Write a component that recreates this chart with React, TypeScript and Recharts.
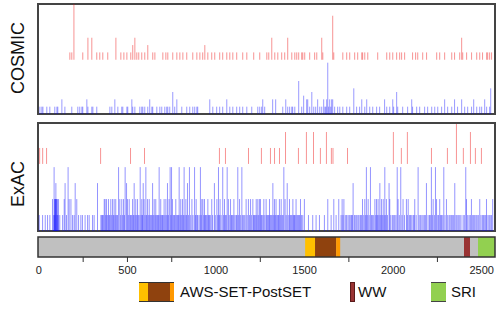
import React from 'react';
import { BarChart, Bar, XAxis, YAxis, ReferenceArea } from 'recharts';

// protein position axis
const xDomain: [number, number] = [-5, 2575];
const axisTicks = [0, 250, 500, 750, 1000, 1250, 1500, 1750, 2000, 2250, 2500];
const tickMarks = [250, 500, 750, 1250, 1750, 2250];
const tickLabels = [0, 500, 1000, 1500, 2000, 2500];

// [residue, height] for each track
const cosmicRed: [number, number][] = [
  [175, 1], [186, 1], [198, 7.6], [248, 1], [277, 3], [299, 3], [327, 1], [344, 1], [361, 1], [389, 1],
  [435, 3], [463, 1], [480, 1], [497, 1], [519, 1], [530, 2], [542, 3], [553, 1], [564, 1], [581, 1],
  [598, 1], [615, 2], [643, 1], [655, 1], [700, 1], [717, 1], [728, 1], [756, 1], [779, 1], [796, 1],
  [813, 1], [835, 1], [869, 1], [892, 1], [909, 1], [925, 1], [937, 2], [954, 1], [976, 1], [993, 1],
  [1021, 1], [1038, 1], [1061, 1], [1078, 1], [1095, 1], [1117, 1], [1151, 1], [1174, 1], [1213, 1],
  [1247, 1], [1287, 1], [1298, 1], [1315, 3], [1332, 1], [1349, 1], [1371, 1], [1388, 1], [1405, 3],
  [1428, 1], [1445, 1], [1456, 1], [1467, 1], [1484, 1], [1490, 1], [1501, 1], [1529, 1], [1557, 1],
  [1569, 1], [1597, 3], [1603, 1], [1659, 6], [1665, 1], [1716, 1], [1738, 1], [1755, 1], [1783, 1],
  [1800, 1], [1823, 1], [1828, 1], [1840, 1], [1857, 1], [1913, 1], [1964, 1], [1981, 1], [1998, 1],
  [2020, 1], [2037, 1], [2048, 1], [2065, 1], [2110, 1], [2127, 1], [2139, 1], [2167, 1], [2189, 1],
  [2246, 1], [2263, 1], [2291, 1], [2331, 1], [2347, 1], [2376, 1], [2387, 3], [2393, 1], [2415, 1],
  [2443, 1], [2472, 1], [2489, 1], [2505, 1], [2528, 1], [2534, 1], [2545, 1], [2556, 1],
];

const cosmicBlue: [number, number][] = [
  [6, 1], [17, 1], [23, 1], [45, 1], [62, 1], [90, 1], [102, 1], [107, 1], [130, 2], [147, 1],
  [186, 1], [220, 1], [231, 1], [243, 1], [248, 1], [271, 2], [277, 1], [299, 1], [305, 1], [327, 1],
  [401, 1], [412, 1], [429, 2], [446, 1], [468, 1], [474, 1], [497, 1], [502, 1], [525, 2], [530, 1],
  [542, 1], [570, 1], [581, 1], [587, 1], [598, 1], [615, 1], [626, 2], [638, 1], [643, 1], [666, 1],
  [683, 1], [694, 1], [711, 1], [722, 1], [728, 1], [739, 1], [756, 3], [767, 1], [779, 2], [807, 1],
  [835, 1], [852, 1], [869, 1], [880, 1], [892, 1], [897, 1], [965, 2], [982, 1], [1004, 1], [1021, 1],
  [1038, 1], [1061, 2], [1078, 1], [1095, 1], [1117, 1], [1134, 1], [1151, 1], [1174, 1], [1202, 1],
  [1236, 1], [1247, 1], [1258, 1], [1264, 2], [1275, 1], [1320, 2], [1337, 2], [1377, 1], [1394, 2],
  [1405, 1], [1416, 1], [1428, 1], [1433, 1], [1445, 1], [1467, 4.5], [1484, 1], [1495, 2.5], [1512, 2],
  [1518, 2], [1529, 1], [1541, 3], [1552, 1], [1563, 1], [1574, 2], [1586, 1], [1597, 1], [1608, 2],
  [1615, 1], [1620, 1], [1625, 2], [1631, 7], [1636, 1], [1642, 2], [1648, 1], [1653, 2], [1659, 2],
  [1670, 1], [1687, 1], [1699, 1], [1716, 1], [1738, 1], [1755, 1], [1778, 3.5], [1794, 1], [1811, 1],
  [1823, 2], [1840, 1], [1851, 2], [1868, 1], [1885, 1], [1907, 1], [1924, 1], [1952, 2], [1964, 1],
  [1981, 1], [1998, 2], [2003, 1], [2020, 3], [2026, 1], [2054, 1], [2082, 1], [2105, 2], [2110, 1],
  [2133, 1], [2150, 1], [2178, 1], [2195, 1], [2218, 1], [2235, 1], [2252, 1], [2274, 1], [2291, 2],
  [2308, 1], [2331, 1], [2347, 2], [2364, 1], [2387, 2], [2404, 1], [2421, 1], [2443, 1], [2455, 2],
  [2472, 1], [2489, 1], [2500, 1], [2517, 2], [2528, 1], [2545, 1], [2551, 3.5],
];

const exacRed: [number, number][] = [
  [6, 1], [23, 1], [45, 1], [350, 1], [519, 1], [598, 1], [1021, 1], [1055, 1], [1185, 1], [1258, 1],
  [1309, 1], [1332, 1], [1360, 1], [1394, 2], [1467, 1], [1512, 2], [1552, 2], [1591, 1], [1625, 2],
  [1653, 1], [1662, 1], [1744, 1], [2003, 2], [2048, 1], [2082, 2], [2218, 1], [2308, 1], [2359, 2.5],
  [2398, 1], [2438, 2], [2466, 1], [2500, 1],
];

const exacBlue: [number, number][] = [
  [2, 1], [21, 1], [36, 1], [49, 1], [62, 1], [77, 2], [84, 1], [86, 4], [88, 2], [90, 1], [92, 2],
  [94, 2], [96, 3], [98, 2], [100, 2], [103, 1], [105, 2], [108, 1], [111, 2], [118, 1], [134, 1],
  [143, 2], [148, 3], [156, 1], [165, 4], [171, 2], [181, 2], [190, 1], [199, 1], [205, 3], [214, 2],
  [224, 1], [237, 1], [246, 1], [261, 1], [275, 1], [284, 1], [303, 1], [312, 1], [331, 3], [350, 1],
  [359, 1], [369, 2], [374, 2], [382, 2], [393, 2], [401, 1], [406, 2], [416, 2], [425, 2], [434, 2],
  [444, 1], [450, 4], [457, 2], [468, 2], [478, 2], [487, 4], [495, 3], [500, 2], [510, 2], [519, 1],
  [529, 2], [538, 3], [547, 2], [557, 2], [566, 1], [572, 4], [581, 2], [589, 3], [594, 2], [604, 4],
  [613, 2], [623, 2], [632, 1], [642, 3], [651, 2], [660, 2], [670, 1], [679, 4], [688, 2], [698, 1],
  [707, 2], [717, 2], [726, 3], [735, 2], [741, 4], [749, 4], [754, 2], [764, 1], [773, 2], [783, 1],
  [792, 4], [801, 2], [811, 2], [820, 4], [830, 2], [839, 3], [850, 4], [864, 2], [879, 4], [888, 2],
  [897, 1], [912, 4], [920, 2], [926, 2], [935, 2], [944, 1], [954, 2], [963, 1], [976, 2], [991, 3],
  [1005, 2], [1014, 4], [1023, 2], [1038, 4], [1048, 2], [1063, 4], [1070, 2], [1082, 2], [1091, 1],
  [1101, 2], [1114, 1], [1123, 4], [1133, 2], [1146, 4], [1157, 1], [1170, 2], [1183, 2], [1195, 2],
  [1208, 2], [1217, 1], [1227, 2], [1236, 2], [1245, 2], [1251, 2], [1259, 1], [1270, 2], [1283, 2],
  [1292, 1], [1302, 2], [1311, 1], [1321, 3], [1330, 2], [1339, 2], [1349, 1], [1358, 2], [1368, 2],
  [1383, 4], [1390, 2], [1402, 3], [1415, 2], [1424, 1], [1434, 2], [1443, 1], [1452, 2], [1462, 1],
  [1477, 2], [1490, 1], [1499, 2], [1522, 1], [1546, 1], [1565, 1], [1584, 1], [1612, 1], [1631, 2],
  [1650, 1], [1665, 2], [1678, 1], [1693, 2], [1706, 1], [1712, 2], [1722, 2], [1737, 1], [1752, 1],
  [1765, 1], [1774, 3], [1789, 1], [1802, 1], [1816, 1], [1827, 2], [1840, 2], [1849, 4], [1859, 2],
  [1872, 4], [1883, 1], [1897, 2], [1906, 2], [1915, 2], [1925, 3], [1934, 2], [1944, 2], [1953, 4],
  [1962, 2], [1977, 3], [1981, 2], [1996, 1], [2009, 1], [2023, 4], [2028, 2], [2043, 4], [2056, 2],
  [2075, 2], [2085, 2], [2098, 1], [2113, 1], [2122, 2], [2141, 4], [2154, 1], [2169, 1], [2188, 3],
  [2197, 1], [2216, 4], [2226, 2], [2239, 4], [2245, 2], [2263, 2], [2273, 1], [2286, 4], [2301, 2],
  [2316, 1], [2329, 1], [2348, 3], [2361, 1], [2376, 1], [2395, 1], [2410, 4], [2414, 2], [2429, 1],
  [2442, 2], [2461, 1], [2474, 1], [2489, 2], [2504, 1], [2517, 1], [2527, 2], [2542, 1], [2555, 1],
  [2562, 2],
];

// single-count ExAC variants filling the dense bottom band
const exacBlueSingles: number[] = [
  355, 364, 378, 387, 397, 411, 421, 430, 439, 462, 473, 483, 505, 515, 524, 534, 543, 552, 561, 577,
  585, 599, 608, 618, 627, 637, 646, 656, 665, 675, 684, 693, 702, 712, 722, 731, 745, 759, 768, 778,
  788, 797, 806, 816, 825, 834, 845, 857, 870, 884, 893, 905, 916, 931, 940, 949, 958, 968, 981, 996,
  1010, 1019, 1029, 1043, 1053, 1058, 1075, 1087, 1096, 1107, 1118, 1128, 1139, 1151, 1163, 1176, 1189,
  1201, 1212, 1222, 1231, 1241, 1255, 1265, 1276, 1287, 1297, 1306, 1316, 1326, 1335, 1344, 1353, 1363,
  1373, 1378, 1396, 1408, 1419, 1429, 1438, 1447, 1457, 1467, 1472, 1483, 1717, 1730, 1745, 1758, 1770,
  1782, 1795, 1808, 1821, 1834, 1845, 1854, 1865, 1878, 1890, 1902, 1911, 1920, 1930, 1939, 1949, 1958,
  1968, 1987, 2003, 2016, 2035, 2050, 2064, 2080, 2092, 2105, 2118, 2130, 2147, 2162, 2176, 2182, 2205,
  2210, 2221, 2233, 2252, 2257, 2268, 2280, 2293, 2308, 2322, 2336, 2342, 2355, 2368, 2383, 2402, 2421,
  2436, 2449, 2455, 2468, 2481, 2496, 2510, 2523, 2535, 2548,
];

// protein domains
const domainNames = ['AWS', 'SET', 'PostSET', 'WW', 'SRI'];
const domainStart = [1503, 1559, 1678, 2400, 2479];
const domainEnd = [1559, 1678, 1701, 2434, 2575];
const domainColors = ['#ffc000', '#8f420e', '#ff9900', '#993333', '#92d050'];

const FONT = 'Arial, "Liberation Sans", sans-serif';
const BORDER = '#444';

interface TrackProps {
  data: [number, number][];
  top: number;
  height: number;
  yMax: number;
  base: number;
  color: string;
  opacity: number;
}

const Track: React.FC<TrackProps> = ({ data, top, height, yMax, base, color, opacity }) => {
  const rows = data.map(([pos, h]) => ({ pos, h }));
  return (
    <div style={{ position: 'absolute', left: 0, top }}>
      <BarChart width={500} height={height} data={rows} margin={{ top: 0, right: 5, bottom: 0, left: 38 }}>
        <XAxis type="number" dataKey="pos" domain={xDomain} allowDataOverflow hide />
        <YAxis type="number" domain={[0, yMax]} allowDataOverflow hide />
        <Bar
          dataKey={(d: { h: number }) => [base, base + d.h]}
          barSize={1}
          isAnimationActive={false}
          shape={(p: any) => (
            <rect x={p.x + p.width / 2 - 0.5} y={p.y} width={1} height={p.height} fill={color} fillOpacity={opacity} />
          )}
        />
      </BarChart>
    </div>
  );
};

const AxisTick = (props: any) => {
  const { x, y, payload } = props;
  const v = payload.value;
  return (
    <g>
      {tickMarks.includes(v) && <line x1={x} x2={x} y1={y - 9} y2={y - 4} stroke="#333" />}
      {tickLabels.includes(v) && (
        <text x={x} y={y} dy="0.71em" textAnchor="middle" fontSize={11} fill="#222" fontFamily={FONT}>
          {v}
        </text>
      )}
    </g>
  );
};

const sideLabel = (text: string, cy: number) => (
  <div
    style={{
      position: 'absolute',
      left: 18 - 60,
      top: cy - 11,
      width: 120,
      height: 22,
      lineHeight: '22px',
      textAlign: 'center',
      fontSize: 18,
      color: '#111',
      transform: 'rotate(-90deg)',
    }}
  >
    {text}
  </div>
);

const boxStyle = (top: number, height: number): React.CSSProperties => ({
  position: 'absolute',
  left: 37,
  top,
  width: 459,
  height,
  border: `2px solid ${BORDER}`,
  boxSizing: 'border-box',
});

const legendText: React.CSSProperties = {
  position: 'absolute',
  top: 282,
  lineHeight: '20px',
  fontSize: 15,
  color: '#111',
};

export default function App() {
  const domainRows = domainNames.map((name, i) => ({ name, start: domainStart[i], end: domainEnd[i] }));
  const exacBlueAll: [number, number][] = [...exacBlue, ...exacBlueSingles.map((p): [number, number] => [p, 1])];
  return (
    <div style={{ position: 'absolute', left: 0, top: 0, width: 500, height: 312, background: '#fff', fontFamily: FONT }}>
      <div style={boxStyle(3, 112)} />
      <div style={boxStyle(122, 110)} />

      <Track data={cosmicRed} top={4} height={110} yMax={15} base={7.4} color="#ee1111" opacity={0.45} />
      <Track data={cosmicBlue} top={4} height={110} yMax={15} base={0} color="#0000ff" opacity={0.4} />
      <Track data={exacRed} top={124} height={107} yMax={6.7} base={4.2} color="#ee1111" opacity={0.45} />
      <Track data={exacBlueAll} top={124} height={107} yMax={6.7} base={0} color="#0000ff" opacity={0.42} />

      <div style={{ position: 'absolute', left: 0, top: 236 }}>
        <BarChart width={500} height={50} data={domainRows} margin={{ top: 1, right: 5, bottom: 0, left: 38 }}>
          <XAxis
            type="number"
            dataKey="start"
            domain={xDomain}
            allowDataOverflow
            ticks={axisTicks}
            interval={0}
            tickLine={false}
            axisLine={false}
            tickSize={5}
            tickMargin={4}
            height={29}
            tick={<AxisTick />}
          />
          <YAxis type="number" domain={[0, 1]} allowDataOverflow hide />
          <ReferenceArea x1={xDomain[0]} x2={xDomain[1]} y1={0} y2={1} fill="#c0c0c0" fillOpacity={1} stroke="none" />
          {domainRows.map((d, i) => (
            <ReferenceArea key={d.name} x1={d.start} x2={d.end} y1={0} y2={1} fill={domainColors[i]} fillOpacity={1} stroke="none" />
          ))}
          <ReferenceArea x1={xDomain[0]} x2={xDomain[1]} y1={0} y2={1} fill="none" stroke="#333" strokeWidth={1.5} />
        </BarChart>
      </div>

      {sideLabel('COSMIC', 58)}
      {sideLabel('ExAC', 184)}

      {/* legend */}
      <div style={{ position: 'absolute', left: 139, top: 282, height: 20, display: 'flex', borderTop: '1px solid #333', borderBottom: '1px solid #333', boxSizing: 'border-box' }}>
        <div style={{ width: 9, background: domainColors[0] }} />
        <div style={{ width: 22, background: domainColors[1] }} />
        <div style={{ width: 4, background: domainColors[2] }} />
      </div>
      <div style={{ ...legendText, left: 180 }}>AWS-SET-PostSET</div>

      <div style={{ position: 'absolute', left: 350, top: 282, width: 5, height: 20, background: domainColors[3], border: '1px solid #5a1a1a', boxSizing: 'border-box' }} />
      <div style={{ ...legendText, left: 358 }}>WW</div>

      <div style={{ position: 'absolute', left: 431, top: 282, width: 15, height: 20, background: domainColors[4], borderTop: '1px solid #444', borderBottom: '1px solid #444', boxSizing: 'border-box' }} />
      <div style={{ ...legendText, left: 451 }}>SRI</div>
    </div>
  );
}
